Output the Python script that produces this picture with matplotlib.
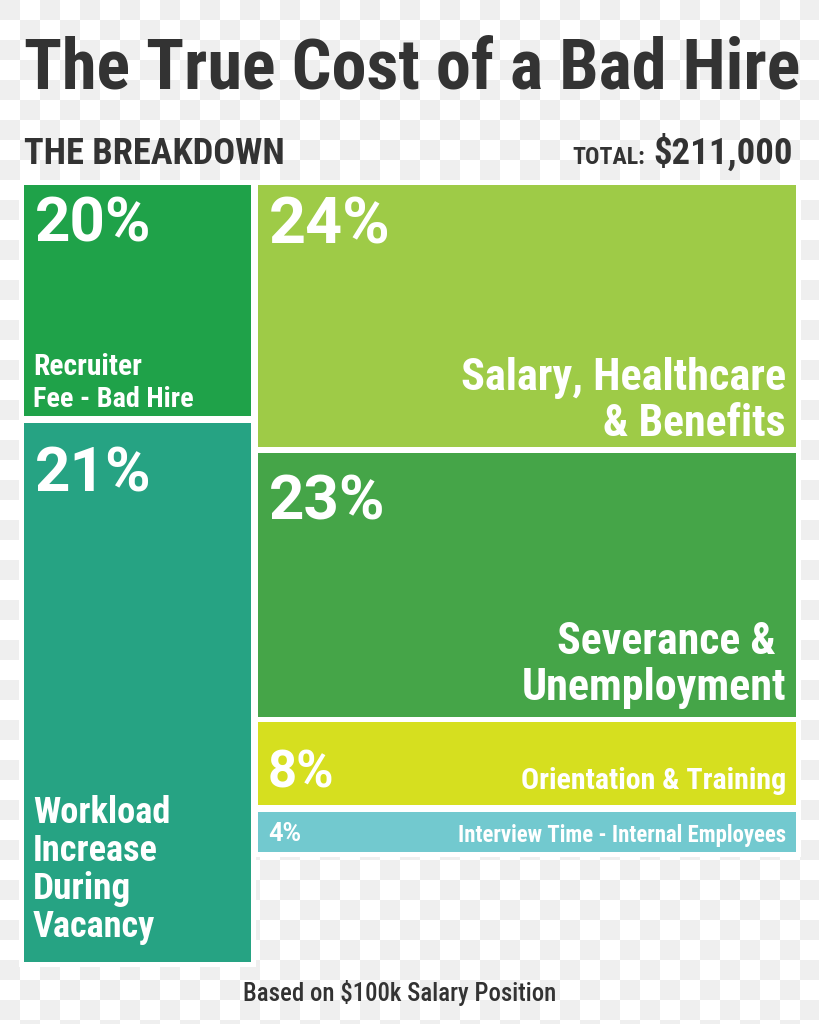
import numpy as np
import matplotlib.pyplot as plt
from matplotlib.patches import Rectangle
from matplotlib.colors import ListedColormap

plt.rcParams['font.family'] = ['Roboto Condensed', 'DejaVu Sans']
plt.rcParams['font.stretch'] = 'condensed'

# texts
title = 'The True Cost of a Bad Hire'
subtitle = 'THE BREAKDOWN'
total_label = 'TOTAL:'
total_value = '$211,000'
footnote = 'Based on $100k Salary Position'

# data
categories = ['Recruiter\nFee - Bad Hire',
              'Workload\nIncrease\nDuring\nVacancy',
              'Salary, Healthcare\n& Benefits',
              'Severance & \nUnemployment',
              'Orientation & Training',
              'Interview Time - Internal Employees']
shares = [20, 21, 24, 23, 8, 4]
colors = ['#1fa249', '#26a383', '#9ecb47', '#45a548', '#d6df1f', '#72c9cf']

# layout in pixels (left, top, right, bottom)
boxes = [(24, 185, 251, 416), (24, 423, 251, 962),
         (258, 185, 796, 447), (258, 453, 796, 717),
         (258, 722, 796, 805), (258, 812, 796, 852)]
# percent label: x, baseline, cap height
pct_pos = [(35, 242, 44), (35, 492, 44), (269, 243, 46),
           (269, 520, 44), (268, 788, 36), (268, 841, 18)]
# category label: x, first baseline, cap height, line step, align, max widths per line
lab_pos = [(33, 375, 21, 32, 'left', [112, 160]),
           (33, 823, 27, 38, 'left', [137, 125, 98, 122]),
           (786, 390, 34, 46, 'right', [325, 183]),
           (786, 654, 35, 46, 'right', [229, 265]),
           (786, 789, 25, 0, 'right', [265]),
           (786, 842, 19, 0, 'right', [329])]

fig = plt.figure(figsize=(8.2, 10.24), dpi=100)
ax = fig.add_axes([0, 0, 1, 1])

# transparent-png checkerboard
board = np.indices((52, 41)).sum(axis=0) % 2
ax.imshow(board, cmap=ListedColormap(['#efefef', '#ffffff']),
          extent=(0, 820, 1040, 0), interpolation='nearest', zorder=0)
ax.set_xlim(0, 820)
ax.set_ylim(1024, 0)
ax.axis('off')

renderer = fig.canvas.get_renderer()


def put(x, y, s, cap, width=None, ha='left', color='white', weight='bold', family=None):
    t = ax.text(x, y, s, fontsize=cap / 0.988, fontweight=weight, color=color,
                ha=ha, va='baseline', zorder=5)
    if family:
        t.set_family(family)
        t.set_stretch('normal')
    if width:
        w = t.get_window_extent(renderer).width
        if w > width:
            t.set_fontsize(cap / 0.988 * width / w)
    return t


for (l, t, r, b), c in zip(boxes, colors):
    ax.add_patch(Rectangle((l - 5, t - 5), r - l + 10, b - t + 10, color='white', zorder=1, lw=0))
for (l, t, r, b), c in zip(boxes, colors):
    ax.add_patch(Rectangle((l, t), r - l, b - t, color=c, zorder=2, lw=0))

for i, (name, v) in enumerate(zip(categories, shares)):
    px, py, pc = pct_pos[i]
    put(px, py, f'{v}%', pc, family=['Roboto', 'DejaVu Sans'])
    lx, ly, lc, step, ha, widths = lab_pos[i]
    for k, line in enumerate(name.split('\n')):
        put(lx, ly + k * step, line, lc, width=widths[k], ha=ha)

put(24, 88, title, 56, width=776, color='#333333')
put(24, 164, subtitle, 29, width=261, color='#333333')
put(793, 164, total_value, 29, width=139, ha='right', color='#333333')
put(645, 164, total_label, 17, width=75, ha='right', color='#333333')
put(400, 1001, footnote, 19, width=313, ha='center', color='#333333', weight='medium')

fig.savefig('out.png', dpi=100)
